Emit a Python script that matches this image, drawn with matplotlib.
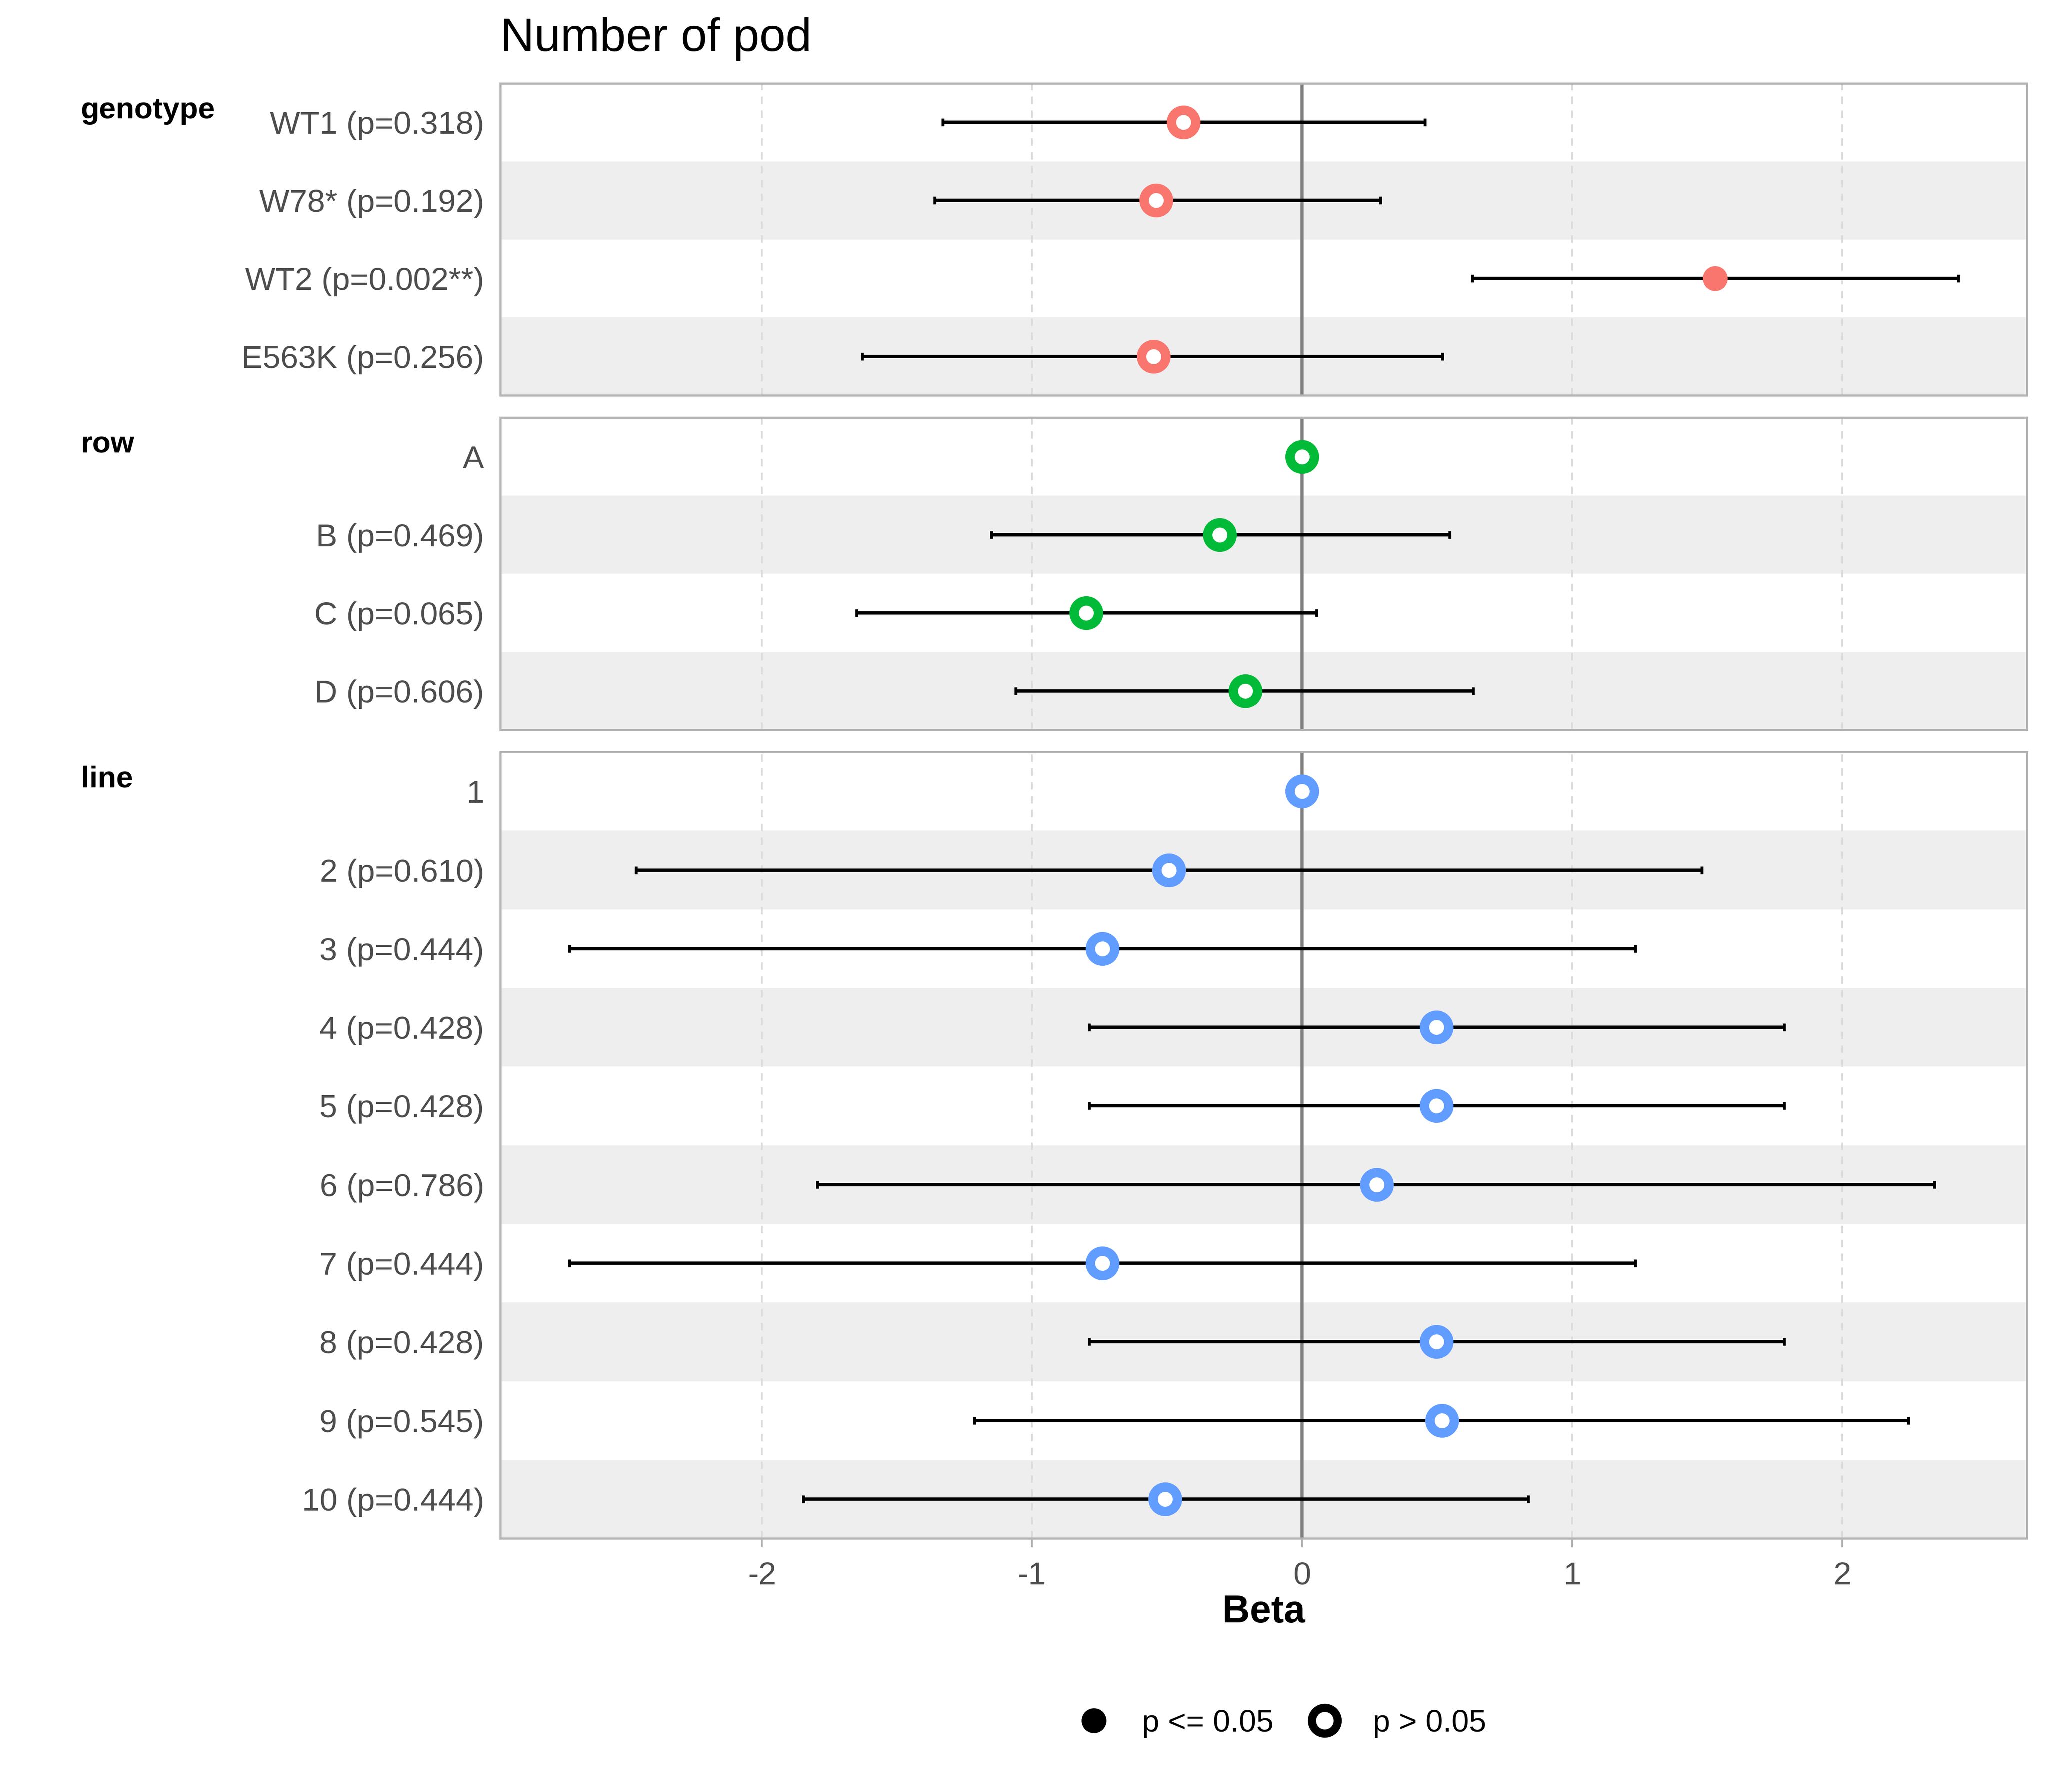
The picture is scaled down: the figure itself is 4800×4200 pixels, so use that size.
import matplotlib.pyplot as plt
from matplotlib.lines import Line2D

plt.rcParams['font.family'] = ['Liberation Sans', 'DejaVu Sans']

# facet groups (top to bottom)
groups = ['genotype', 'row', 'line']
colors = ['#F8766D', '#00BA38', '#619CFF']

geno_labels = ['WT1 (p=0.318)', 'W78* (p=0.192)', 'WT2 (p=0.002**)', 'E563K (p=0.256)']
geno_beta = [-0.44, -0.54, 1.53, -0.55]
geno_lo = [-1.33, -1.36, 0.63, -1.63]
geno_hi = [0.455, 0.29, 2.43, 0.52]
geno_sig = [False, False, True, False]

row_labels = ['A', 'B (p=0.469)', 'C (p=0.065)', 'D (p=0.606)']
row_beta = [0.0, -0.305, -0.80, -0.21]
row_lo = [None, -1.15, -1.65, -1.06]
row_hi = [None, 0.547, 0.053, 0.634]
row_sig = [False, False, False, False]

line_labels = ['1', '2 (p=0.610)', '3 (p=0.444)', '4 (p=0.428)', '5 (p=0.428)',
               '6 (p=0.786)', '7 (p=0.444)', '8 (p=0.428)', '9 (p=0.545)', '10 (p=0.444)']
line_beta = [0.0, -0.493, -0.74, 0.498, 0.498, 0.276, -0.74, 0.498, 0.518, -0.508]
line_lo = [None, -2.467, -2.714, -0.789, -0.789, -1.795, -2.714, -0.789, -1.214, -1.848]
line_hi = [None, 1.48, 1.234, 1.785, 1.785, 2.342, 1.234, 1.785, 2.245, 0.837]
line_sig = [False] * 10

data = [
    (geno_labels, geno_beta, geno_lo, geno_hi, geno_sig),
    (row_labels, row_beta, row_lo, row_hi, row_sig),
    (line_labels, line_beta, line_lo, line_hi, line_sig),
]

xticks = [-2, -1, 0, 1, 2]
xlim = (-2.97, 2.685)

fig = plt.figure(figsize=(16, 14), dpi=300)

# panel positions in figure fraction
left, right = 0.2443, 0.9898
panels = [(0.7792, 0.9534), (0.5926, 0.7668), (0.1414, 0.5802)]
label_y = [0.938, 0.7515, 0.5650]

for i, (labels, beta, lo, hi, sig) in enumerate(data):
    bot, top = panels[i]
    ax = fig.add_axes([left, bot, right - left, top - bot])
    n = len(labels)
    ys = list(range(n))

    for y in ys:
        if y % 2 == 1:
            ax.axhspan(y - 0.5, y + 0.5, color='#EEEEEE', lw=0, zorder=0)
    for t in xticks:
        ax.axvline(t, color='#DCDCDC', lw=1.0, ls=(0, (4.2, 3.6)), zorder=1)
    ax.axvline(0, color='#808080', lw=1.8, zorder=2)

    for y in ys:
        if lo[y] is not None:
            ax.errorbar(beta[y], y, xerr=[[beta[y] - lo[y]], [hi[y] - beta[y]]],
                        fmt='none', ecolor='black', elinewidth=1.85,
                        capsize=2.2, capthick=1.6, zorder=3)
        if sig[y]:
            ax.plot(beta[y], y, 'o', ms=14, color=colors[i], mec=colors[i], mew=0, zorder=4)
        else:
            ax.plot(beta[y], y, 'o', ms=13.7, mfc='white', mec=colors[i], mew=5.3, zorder=4)

    ax.set_xlim(*xlim)
    ax.set_ylim(n - 0.5, -0.5)
    ax.set_yticks(ys)
    ax.set_yticklabels(labels)
    ax.set_xticks(xticks)
    ax.tick_params(axis='y', length=0, pad=9, labelsize=18, labelcolor='#4D4D4D')
    if i == 2:
        ax.tick_params(axis='x', length=5, width=1.0, color='#B3B3B3', pad=8,
                       labelsize=18, labelcolor='#4D4D4D')
        ax.set_xticklabels([str(t) for t in xticks])
    else:
        ax.tick_params(axis='x', length=0, labelbottom=False)
    for s in ax.spines.values():
        s.set_color('#B3B3B3')
        s.set_linewidth(1.2)

    fig.text(0.0395, label_y[i], groups[i], fontsize=17, fontweight='bold',
             ha='left', va='center')

fig.text(left, 0.978, 'Number of pod', fontsize=26.5, ha='left', va='center')
fig.text((left + right) / 2, 0.100, 'Beta', fontsize=21.5, fontweight='bold',
         ha='center', va='center')

handles = [
    Line2D([], [], ls='none', marker='o', ms=14, color='black', mew=0),
    Line2D([], [], ls='none', marker='o', ms=14.5, mfc='white', mec='black', mew=4.6),
]
fig.legend(handles, ['p <= 0.05', 'p > 0.05'], loc='center', bbox_to_anchor=(0.625, 0.038),
           ncol=2, frameon=False, fontsize=17.5, handletextpad=0.9, columnspacing=1.0,
           handlelength=1.3)

fig.savefig('out.png', dpi=300, facecolor='white')
